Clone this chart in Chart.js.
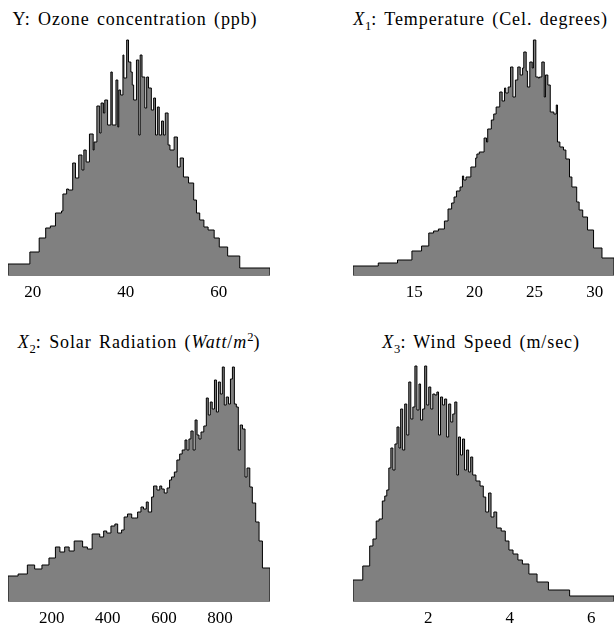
<!DOCTYPE html>
<html>
<head>
<meta charset="utf-8">
<script src="https://cdn.jsdelivr.net/npm/chart.js@4.4.1/dist/chart.umd.min.js"></script>
<style>
  body { margin: 0; background: #fff; width: 616px; height: 633px; position: relative; overflow: hidden; }
  canvas { position: absolute; }
  .title { position: absolute; font-family: 'Liberation Serif', serif; font-size: 18px; letter-spacing: 0.9px; word-spacing: 2px; color: #000; text-align: center; white-space: nowrap; line-height: 20px; }
  .title sub, .title sup { font-size: 0.7em; line-height: 0; letter-spacing: 0; }
</style>
</head>
<body>
<div class="title" style="left:0px; top:9px; width:270px;">Y: Ozone concentration (ppb)</div>
<div class="title" style="left:345px; top:9px; width:271px;"><i>X</i><sub>1</sub>: Temperature (Cel. degrees)</div>
<div class="title" style="left:4px; top:332px; width:270px;"><i>X</i><sub>2</sub>: Solar Radiation (<i>Watt</i>/<i>m</i><sup>2</sup>)</div>
<div class="title" style="left:346px; top:332px; width:270px;"><i>X</i><sub>3</sub>: Wind Speed (m/sec)</div>

<canvas id="ozone" width="262" height="270" style="left:8px; top:35px;"></canvas>
<canvas id="temp" width="261" height="270" style="left:353px; top:35px;"></canvas>
<canvas id="solar" width="262" height="270" style="left:8px; top:361px;"></canvas>
<canvas id="wind" width="261" height="270" style="left:353px; top:361px;"></canvas>

<script>
// bin edges (left edge of each bin, last one is the right end) and bin heights
const ozoneEdges = [14.7, 19.4, 21.4, 22.8, 23.8, 24.9, 26.2, 26.5, 27.3, 27.7, 28.6, 29.2, 29.9, 30.6, 31.0, 31.5, 32.2, 33.0, 33.2, 33.8, 34.4, 34.7, 35.2, 35.5, 36.1, 36.8, 37.1, 37.9, 38.3, 38.5, 38.9, 39.4, 39.6, 40.2, 40.6, 41.1, 41.4, 41.7, 42.3, 42.8, 43.1, 43.5, 44.1, 44.5, 44.9, 45.5, 46.0, 46.4, 46.8, 47.2, 47.7, 48.1, 48.5, 49.1, 49.5, 50.4, 51.1, 51.7, 52.4, 53.5, 54.6, 55.2, 55.9, 56.8, 57.7, 59.0, 60.1, 61.9, 64.5, 71.0];
const ozoneHeights = [11, 23, 37, 47, 49, 62, 64, 81, 86, 85, 112, 97, 120, 105, 125, 113, 141, 125, 133, 169, 142, 172, 162, 175, 150, 203, 150, 195, 148, 185, 180, 220, 197, 235, 213, 203, 190, 175, 215, 140, 220, 198, 167, 198, 187, 165, 177, 140, 168, 140, 154, 140, 162, 130, 125, 138, 108, 117, 98, 92, 75, 62, 55, 48, 45, 37, 28, 19, 7];
const ozoneTicks = [20, 40, 60];

const tempEdges = [9.9, 12.0, 13.6, 14.8, 15.6, 16.2, 16.6, 17.0, 17.5, 17.8, 18.1, 18.3, 18.5, 18.8, 19.0, 19.1, 19.3, 19.7, 20.1, 20.2, 20.4, 20.8, 21.0, 21.1, 21.4, 21.6, 21.8, 22.1, 22.3, 22.5, 22.6, 22.8, 23.0, 23.2, 23.4, 23.6, 23.8, 24.0, 24.1, 24.3, 24.4, 24.6, 24.8, 24.9, 25.1, 25.3, 25.4, 25.6, 25.8, 25.9, 26.1, 26.3, 26.6, 26.8, 26.9, 27.1, 27.4, 27.6, 27.9, 28.1, 28.5, 28.7, 29.0, 29.4, 29.9, 30.6, 31.6];
const tempHeights = [9, 12, 15, 24, 29, 42, 44, 46, 54, 66, 72, 78, 84, 88, 99, 95, 98, 108, 117, 121, 123, 137, 133, 146, 155, 161, 168, 183, 174, 187, 182, 188, 208, 178, 195, 208, 200, 207, 223, 204, 188, 213, 207, 235, 198, 197, 198, 213, 178, 200, 190, 163, 161, 170, 133, 128, 125, 116, 98, 88, 73, 65, 58, 45, 27, 17];
const tempTicks = [15, 20, 25, 30];

const solarEdges = [44, 80, 113, 139, 165, 190, 213, 229, 246, 262, 280, 310, 327, 344, 371, 385, 396, 411, 425, 435, 449, 458, 470, 485, 496, 506, 518, 527, 537, 544, 556, 563, 575, 585, 592, 601, 611, 620, 627, 637, 646, 656, 665, 675, 682, 689, 696, 704, 711, 718, 725, 732, 742, 751, 758, 765, 772, 780, 787, 794, 801, 808, 815, 822, 830, 837, 844, 851, 858, 865, 872, 880, 889, 896, 906, 915, 927, 939, 951, 978];
const solarHeights = [25, 27, 36, 32, 36, 43, 54, 49, 54, 50, 60, 54, 52, 67, 64, 70, 68, 75, 77, 68, 71, 84, 87, 83, 83, 89, 94, 92, 99, 89, 104, 115, 111, 115, 112, 108, 113, 121, 124, 129, 141, 147, 151, 161, 151, 162, 170, 151, 181, 166, 162, 169, 175, 203, 186, 199, 192, 221, 189, 219, 207, 234, 196, 204, 197, 222, 234, 197, 194, 151, 176, 172, 124, 133, 114, 98, 79, 60, 33];
const solarTicks = [200, 400, 600, 800];

const windEdges = [0.15, 0.39, 0.56, 0.64, 0.72, 0.79, 0.87, 0.93, 0.98, 1.03, 1.08, 1.13, 1.18, 1.23, 1.28, 1.32, 1.37, 1.42, 1.47, 1.52, 1.57, 1.62, 1.67, 1.72, 1.77, 1.81, 1.86, 1.91, 1.96, 2.01, 2.06, 2.11, 2.16, 2.21, 2.25, 2.30, 2.35, 2.40, 2.45, 2.50, 2.55, 2.60, 2.65, 2.70, 2.74, 2.79, 2.84, 2.89, 2.94, 2.99, 3.04, 3.09, 3.17, 3.27, 3.35, 3.41, 3.48, 3.54, 3.61, 3.68, 3.79, 3.89, 3.98, 4.08, 4.20, 4.31, 4.47, 4.67, 4.95, 5.47, 6.56];
const windHeights = [21, 35, 55, 62, 80, 82, 100, 105, 111, 133, 153, 131, 157, 174, 153, 192, 151, 197, 166, 219, 182, 194, 235, 191, 217, 181, 192, 235, 196, 214, 192, 207, 206, 209, 166, 204, 196, 202, 164, 197, 179, 187, 199, 126, 164, 146, 162, 131, 151, 129, 144, 126, 120, 115, 104, 89, 108, 84, 89, 73, 70, 60, 51, 47, 41, 37, 27, 19, 11, 5];
const windTicks = [2, 4, 6];

createHistogram(document.getElementById('ozone'), ozoneEdges, ozoneHeights, ozoneTicks);
createHistogram(document.getElementById('temp'), tempEdges, tempHeights, tempTicks);
createHistogram(document.getElementById('solar'), solarEdges, solarHeights, solarTicks);
createHistogram(document.getElementById('wind'), windEdges, windHeights, windTicks);

function createHistogram(canvas, edges, heights, ticks){
    // step outline: up at the first edge, across each bin, down at the last edge
    const points = [{x: edges[0], y: 0}];
    for (let i = 0; i < heights.length; i++) {
        points.push({x: edges[i], y: heights[i]});
    }
    points.push({x: edges[edges.length - 1], y: heights[heights.length - 1]});
    points.push({x: edges[edges.length - 1], y: 0});

    new Chart(canvas, {
        type: 'line',
        data: {
          datasets: [{
            data: points,
            stepped: true,
            fill: 'origin',
            backgroundColor: '#808080',
            borderColor: '#000000',
            borderWidth: 1,
            pointRadius: 0,
            tension: 0
          }]
        },
        options: {
          responsive: false,
          animation: false,
          events: [],
          layout: { padding: 0 },
          plugins: {
            legend: { display: false },
            tooltip: { enabled: false }
          },
          scales: {
            x: {
              type: 'linear',
              min: edges[0],
              max: edges[edges.length - 1],
              afterBuildTicks: axis => { axis.ticks = ticks.map(v => ({value: v})); },
              // fixed axis height so the plot is exactly 240px tall
              afterFit: axis => { axis.height = 30; },
              grid: { display: false, drawTicks: false },
              border: { display: true, color: '#000000', width: 1.5 },
              ticks: {
                color: '#000000',
                padding: 9,
                maxRotation: 0,
                autoSkip: false,
                font: { family: 'Liberation Serif', size: 17, lineHeight: 1 }
              }
            },
            y: {
              display: false,
              min: 0,
              max: 240
            }
          }
        }
    });
}
</script>
</body>
</html>
